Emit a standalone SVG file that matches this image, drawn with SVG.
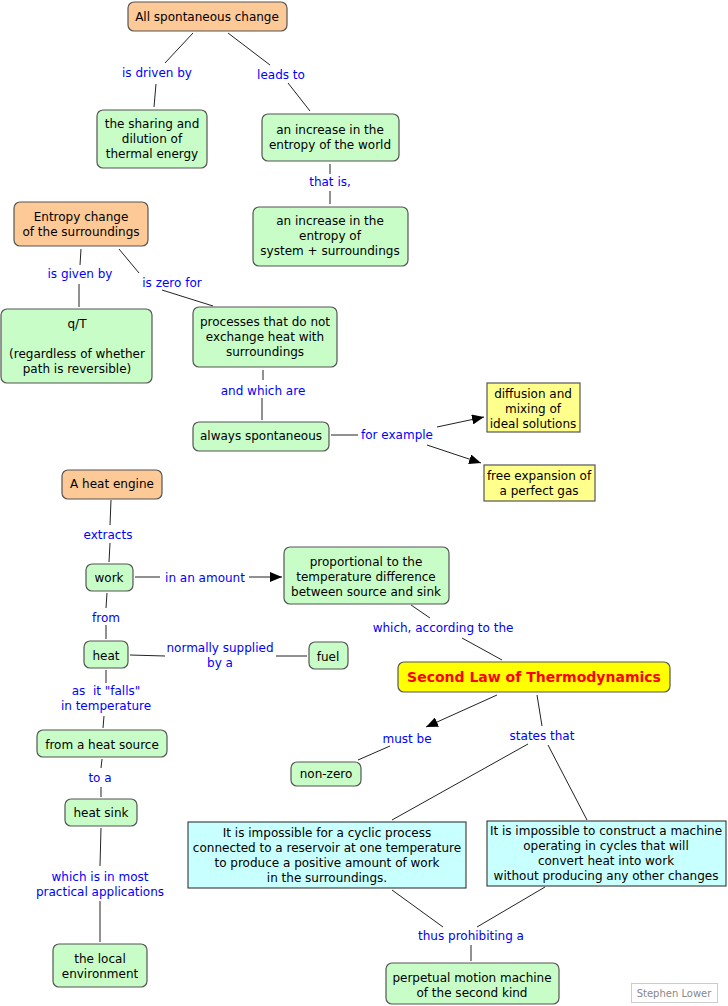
<svg xmlns="http://www.w3.org/2000/svg" width="728" height="1006" viewBox="0 0 728 1006">
<defs>
<style>
.n{stroke:#555;stroke-width:1.2}
.g{fill:#c8fdc8}
.o{fill:#fdc997}
.y{fill:#ffff8c}
.c{fill:#c8ffff;stroke:#222}
.t{font-family:"DejaVu Sans",Verdana,sans-serif;font-size:12px;fill:#000;text-anchor:middle}
.l{font-family:"DejaVu Sans",Verdana,sans-serif;font-size:12px;fill:#0000ff;text-anchor:middle}
.e{stroke:#222;stroke-width:1;fill:none}
</style>
<marker id="ah" viewBox="0 0 12 10" refX="12" refY="5" markerWidth="12" markerHeight="10" markerUnits="userSpaceOnUse" orient="auto">
<path d="M0,0 L12,5 L0,10 Z" fill="#000"/>
</marker>
</defs>
<rect width="728" height="1006" fill="#fff"/>
<g id="connectors">
<path class="e" d="M193,33 L165,63 M156,84 L154,107"/>
<path class="e" d="M228,33 L270,65 M288,83 L310,111"/>
<path class="e" d="M330,164 L330,174 M330,191 L330,204"/>
<path class="e" d="M81,249 L80,265 M79,284 L79,307"/>
<path class="e" d="M119,249 L139,273 M162,290 L213,306"/>
<path class="e" d="M263,370 L263,380 M262,398 L262,420"/>
<path class="e" d="M331,435 L358,435"/>
<path class="e" d="M437,427 L484,417" marker-end="url(#ah)"/>
<path class="e" d="M427,445 L481,463" marker-end="url(#ah)"/>
<path class="e" d="M111,500 L110,525 M110,543 L109,562"/>
<path class="e" d="M135,577 L160,577"/>
<path class="e" d="M249,577 L282,577" marker-end="url(#ah)"/>
<path class="e" d="M107,593 L106,608 M106,625 L106,639"/>
<path class="e" d="M130,655 L165,656 M276,656 L307,656"/>
<path class="e" d="M106,670 L106,683 M104,716 L103,728"/>
<path class="e" d="M102,759 L101,768 M101,787 L101,797"/>
<path class="e" d="M101,828 L100,866 M100,901 L100,942"/>
<path class="e" d="M411,605 L430,618 M462,638 L502,660"/>
<path class="e" d="M497,695 L426,727" marker-end="url(#ah)"/>
<path class="e" d="M390,746 L358,760"/>
<path class="e" d="M537,695 L542,726 M548,745 L587,820 M528,744 L392,820"/>
<path class="e" d="M392,890 L443,927 M545,887 L477,927 M471,945 L471,961"/>
</g>
<g id="labels">
<text class="l" x="157" y="77">is driven by</text>
<text class="l" x="281" y="79">leads to</text>
<text class="l" x="330" y="186">that is,</text>
<text class="l" x="80" y="278">is given by</text>
<text class="l" x="172" y="287">is zero for</text>
<text class="l" x="263" y="395">and which are</text>
<text class="l" x="397" y="439">for example</text>
<text class="l" x="108" y="539">extracts</text>
<text class="l" x="205" y="582">in an amount</text>
<text class="l" x="106" y="622">from</text>
<text class="l" x="220" y="652">normally supplied</text>
<text class="l" x="220" y="667">by a</text>
<text class="l" x="106" y="695" xml:space="preserve" style="white-space:pre">as  it "falls"</text>
<text class="l" x="106" y="710">in temperature</text>
<text class="l" x="100" y="782">to a</text>
<text class="l" x="100" y="881">which is in most</text>
<text class="l" x="100" y="896">practical applications</text>
<text class="l" x="443" y="632">which, according to the</text>
<text class="l" x="407" y="743">must be</text>
<text class="l" x="542" y="740">states that</text>
<text class="l" x="471" y="940">thus prohibiting a</text>
</g>
<g id="n-all">
<rect class="n o" x="128" y="2" width="159" height="29" rx="6"/>
<text class="t" x="207" y="21">All spontaneous change</text>
</g>
<g id="n-sharing">
<rect class="n g" x="97" y="110" width="110" height="58" rx="6"/>
<text class="t" x="152" y="128">the sharing and</text>
<text class="t" x="152" y="143">dilution of</text>
<text class="t" x="152" y="158">thermal energy</text>
</g>
<g id="n-world">
<rect class="n g" x="262" y="114" width="137" height="47" rx="6"/>
<text class="t" x="330" y="134">an increase in the</text>
<text class="t" x="330" y="149">entropy of the world</text>
</g>
<g id="n-system">
<rect class="n g" x="253" y="207" width="155" height="59" rx="6"/>
<text class="t" x="330" y="225">an increase in the</text>
<text class="t" x="330" y="240">entropy of</text>
<text class="t" x="330" y="255">system + surroundings</text>
</g>
<g id="n-entropy-surr">
<rect class="n o" x="14" y="202" width="134" height="44" rx="6"/>
<text class="t" x="81" y="221">Entropy change</text>
<text class="t" x="81" y="236">of the surroundings</text>
</g>
<g id="n-qT">
<rect class="n g" x="1" y="309" width="151" height="74" rx="6"/>
<text class="t" x="77" y="328">q/T</text>
<text class="t" x="77" y="358">(regardless of whether</text>
<text class="t" x="77" y="373">path is reversible)</text>
</g>
<g id="n-processes">
<rect class="n g" x="193" y="307" width="144" height="60" rx="6"/>
<text class="t" x="265" y="326">processes that do not</text>
<text class="t" x="265" y="341">exchange heat with</text>
<text class="t" x="265" y="356">surroundings</text>
</g>
<g id="n-always">
<rect class="n g" x="193" y="422" width="136" height="29" rx="6"/>
<text class="t" x="261" y="440">always spontaneous</text>
</g>
<g id="n-diffusion">
<rect class="n y" x="487" y="383" width="93" height="49"/>
<text class="t" x="533" y="398">diffusion and</text>
<text class="t" x="533" y="413">mixing of</text>
<text class="t" x="533" y="428">ideal solutions</text>
</g>
<g id="n-free">
<rect class="n y" x="484" y="465" width="111" height="36"/>
<text class="t" x="539" y="480">free expansion of</text>
<text class="t" x="539" y="495">a perfect gas</text>
</g>
<g id="n-engine">
<rect class="n o" x="62" y="470" width="100" height="29" rx="6"/>
<text class="t" x="112" y="488">A heat engine</text>
</g>
<g id="n-work">
<rect class="n g" x="86" y="564" width="47" height="27" rx="6"/>
<text class="t" x="109" y="582">work</text>
</g>
<g id="n-proportional">
<rect class="n g" x="284" y="547" width="165" height="57" rx="6"/>
<text class="t" x="366" y="566">proportional to the</text>
<text class="t" x="366" y="581">temperature difference</text>
<text class="t" x="366" y="596">between source and sink</text>
</g>
<g id="n-heat">
<rect class="n g" x="84" y="641" width="44" height="27" rx="6"/>
<text class="t" x="106" y="660">heat</text>
</g>
<g id="n-fuel">
<rect class="n g" x="309" y="642" width="39" height="27" rx="6"/>
<text class="t" x="328" y="661">fuel</text>
</g>
<g id="n-source">
<rect class="n g" x="37" y="730" width="130" height="27" rx="6"/>
<text class="t" x="102" y="749">from a heat source</text>
</g>
<g id="n-sink">
<rect class="n g" x="65" y="799" width="72" height="27" rx="6"/>
<text class="t" x="101" y="817">heat sink</text>
</g>
<g id="n-local">
<rect class="n g" x="53" y="944" width="94" height="43" rx="6"/>
<text class="t" x="100" y="963">the local</text>
<text class="t" x="100" y="978">environment</text>
</g>
<g id="n-second-law">
<rect x="398" y="662" width="272" height="30" rx="6" fill="#ffff00" stroke="#555" stroke-width="1.2"/>
<text x="534" y="682" text-anchor="middle" font-family="DejaVu Sans,Verdana,sans-serif" font-size="14" font-weight="bold" fill="#ff0000">Second Law of Thermodynamics</text>
</g>
<g id="n-nonzero">
<rect class="n g" x="291" y="762" width="70" height="24" rx="6"/>
<text class="t" x="326" y="778">non-zero</text>
</g>
<g id="n-clausius">
<rect class="c" x="188" y="822" width="278" height="66"/>
<text class="t" x="327" y="837">It is impossible for a cyclic process</text>
<text class="t" x="327" y="852">connected to a reservoir at one temperature</text>
<text class="t" x="327" y="867">to produce a positive amount of work</text>
<text class="t" x="327" y="882">in the surroundings.</text>
</g>
<g id="n-kelvin">
<rect class="c" x="487" y="821" width="239" height="65"/>
<text class="t" x="606" y="835">It is impossible to construct a machine</text>
<text class="t" x="606" y="850">operating in cycles that will</text>
<text class="t" x="606" y="865">convert heat into work</text>
<text class="t" x="606" y="880">without producing any other changes</text>
</g>
<g id="n-perpetual">
<rect class="n g" x="386" y="963" width="173" height="41" rx="6"/>
<text class="t" x="472" y="982">perpetual motion machine</text>
<text class="t" x="472" y="997">of the second kind</text>
</g>
<g id="credit">
<rect x="631.5" y="983.5" width="86" height="19" fill="#fff" stroke="#ccc"/>
<text x="674" y="997" text-anchor="middle" font-family="DejaVu Sans,Verdana,sans-serif" font-size="10" fill="#888">Stephen Lower</text>
</g>
</svg>
